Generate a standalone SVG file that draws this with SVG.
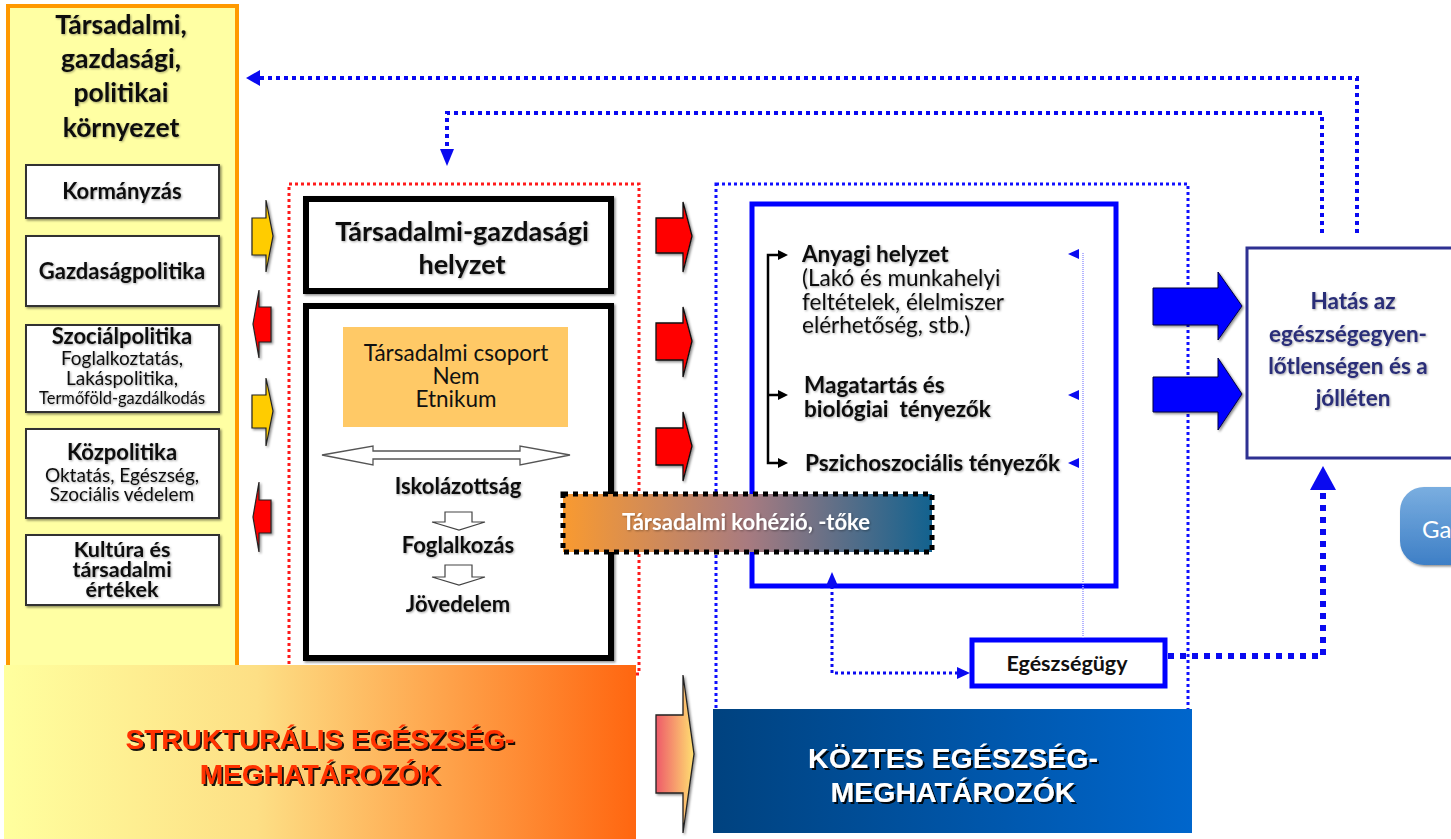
<svg xmlns="http://www.w3.org/2000/svg" width="1451" height="839" viewBox="0 0 1451 839">
  <defs>
    <filter id="shadow" x="-10%" y="-10%" width="130%" height="130%">
      <feDropShadow dx="1.5" dy="1.5" stdDeviation="1.2" flood-color="#000" flood-opacity="0.45"/>
    </filter>
    <filter id="tshadow" x="-5%" y="-20%" width="110%" height="150%">
      <feDropShadow dx="1" dy="1" stdDeviation="0.8" flood-color="#000" flood-opacity="0.35"/>
    </filter>
    <filter id="hshadow" x="-5%" y="-20%" width="110%" height="150%">
      <feDropShadow dx="2" dy="2" stdDeviation="0.6" flood-color="#000" flood-opacity="0.9"/>
    </filter>
    <linearGradient id="gStruct" x1="0" y1="0" x2="1" y2="0">
      <stop offset="0" stop-color="#FFFF9E"/>
      <stop offset="0.4" stop-color="#FDDF85"/>
      <stop offset="1" stop-color="#FF6610"/>
    </linearGradient>
    <linearGradient id="gKoztes" x1="0" y1="0" x2="1" y2="0">
      <stop offset="0" stop-color="#00427F"/>
      <stop offset="1" stop-color="#0066CC"/>
    </linearGradient>
    <linearGradient id="gKohezio" x1="0" y1="0" x2="1" y2="0">
      <stop offset="0" stop-color="#F99A30"/>
      <stop offset="0.5" stop-color="#A87B80"/>
      <stop offset="1" stop-color="#12628F"/>
    </linearGradient>
    <linearGradient id="gMid" x1="0" y1="0" x2="1" y2="0">
      <stop offset="0" stop-color="#EE5A6A"/>
      <stop offset="1" stop-color="#FFE070"/>
    </linearGradient>
    <linearGradient id="gBtn" x1="0" y1="0" x2="0" y2="1">
      <stop offset="0" stop-color="#7AAEE0"/>
      <stop offset="1" stop-color="#3E7FC6"/>
    </linearGradient>
    <style>
      .t { font-family: Lato, "Liberation Sans", sans-serif; fill: #111; }
      .b { font-weight: bold; }
      .panelBox { fill: #fff; stroke: #333; stroke-width: 2; }
      .reddot { fill: none; stroke: #FF1A1A; stroke-width: 3; stroke-dasharray: 3 3; }
      .bluedot { fill: none; stroke: #1010FF; stroke-width: 3; stroke-dasharray: 3 3; }
      .fb { fill: none; stroke: #0A0AF0; stroke-width: 4; stroke-dasharray: 4 4; }
      .thickdot { fill: none; stroke: #0A0AF0; stroke-width: 6; stroke-dasharray: 6 6; }
      .thin { fill: none; stroke: #0A0AF0; stroke-width: 3; stroke-dasharray: 3 3; }
      .bhead { fill: #0A0AF0; }
      .banner { font-family: "Liberation Sans", Arial, sans-serif; font-weight: bold; font-size: 28px; }
    </style>
  </defs>

  <rect width="1451" height="839" fill="#fff"/>

  <!-- left column: social, economic, political context -->
  <g id="context">
    <rect x="8" y="6" width="229" height="680" fill="#FFFFA3" stroke="#FF9900" stroke-width="4"/>
    <g class="t b" font-size="26.5" text-anchor="middle" filter="url(#tshadow)">
      <text x="121" y="34">Társadalmi,</text>
      <text x="121" y="68">gazdasági,</text>
      <text x="121" y="102">politikai</text>
      <text x="121" y="137">környezet</text>
    </g>
  </g>
  <g id="kormanyzas">
    <rect class="panelBox" x="26" y="165" width="193" height="53" filter="url(#shadow)"/>
    <text class="t b" x="122" y="199" font-size="22" text-anchor="middle" filter="url(#tshadow)">Kormányzás</text>
  </g>
  <g id="gazdasagpolitika">
    <rect class="panelBox" x="26" y="236" width="193" height="70" filter="url(#shadow)"/>
    <text class="t b" x="122" y="279" font-size="22" text-anchor="middle" filter="url(#tshadow)">Gazdaságpolitika</text>
  </g>
  <g id="szocialpolitika">
    <rect class="panelBox" x="26" y="325" width="193" height="87" filter="url(#shadow)"/>
    <g class="t" text-anchor="middle" filter="url(#tshadow)">
      <text class="b" x="122" y="344" font-size="22">Szociálpolitika</text>
      <text x="122" y="365" font-size="19">Foglalkoztatás,</text>
      <text x="122" y="385" font-size="19">Lakáspolitika,</text>
      <text x="122" y="404" font-size="18" textLength="166" lengthAdjust="spacingAndGlyphs">Termőföld-gazdálkodás</text>
    </g>
  </g>
  <g id="kozpolitika">
    <rect class="panelBox" x="26" y="429" width="193" height="89" filter="url(#shadow)"/>
    <g class="t" text-anchor="middle" filter="url(#tshadow)">
      <text class="b" x="122" y="460" font-size="22">Közpolitika</text>
      <text x="122" y="482" font-size="19">Oktatás, Egészség,</text>
      <text x="122" y="501" font-size="19">Szociális védelem</text>
    </g>
  </g>
  <g id="kultura">
    <rect class="panelBox" x="26" y="535" width="193" height="70" filter="url(#shadow)"/>
    <g class="t b" font-size="21.5" text-anchor="middle" filter="url(#tshadow)">
      <text x="122" y="557">Kultúra és</text>
      <text x="122" y="577">társadalmi</text>
      <text x="122" y="597">értékek</text>
    </g>
  </g>

  <!-- small arrows between context column and structural box -->
  <g id="context-arrows" stroke="#222" stroke-width="1.2" filter="url(#shadow)">
    <path d="M252,218 H266 V200 L273,236 L266,272 V255 H252 Z" fill="#FFCC00"/>
    <path d="M271,307 H259 V290 L253,324 L259,358 V342 H271 Z" fill="#FF0000"/>
    <path d="M252,395 H266 V378 L273,411 L266,446 V428 H252 Z" fill="#FFCC00"/>
    <path d="M271,500 H259 V482 L253,517 L259,552 V533 H271 Z" fill="#FF0000"/>
  </g>

  <!-- structural determinants area -->
  <rect class="reddot" x="289" y="184" width="350" height="490"/>

  <g id="tarsadalmi-gazdasagi-helyzet">
    <rect x="306" y="199" width="305" height="92" fill="#fff" stroke="#000" stroke-width="6" filter="url(#shadow)"/>
    <g class="t b" font-size="27" text-anchor="middle" filter="url(#tshadow)">
      <text x="462" y="241">Társadalmi-gazdasági</text>
      <text x="462" y="274">helyzet</text>
    </g>
  </g>

  <g id="tarsadalmi-helyzet">
    <rect x="306" y="306" width="305" height="352" fill="#fff" stroke="#000" stroke-width="6" filter="url(#shadow)"/>
    <rect x="343" y="327" width="225" height="100" fill="#FFC966"/>
    <g class="t" font-size="22.5" text-anchor="middle">
      <text x="456" y="361">Társadalmi csoport</text>
      <text x="456" y="384">Nem</text>
      <text x="456" y="407">Etnikum</text>
    </g>
    <path d="M322,455 L373,446 V451 H520 V446 L570,455 L520,465 V459 H373 V465 Z" fill="#fff" stroke="#555" stroke-width="1.3"/>
    <g class="t b" font-size="22" text-anchor="middle" filter="url(#tshadow)">
      <text x="458" y="494">Iskolázottság</text>
      <text x="458" y="553">Foglalkozás</text>
      <text x="458" y="612">Jövedelem</text>
    </g>
    <path d="M445,512 H472 V522 H485 L459,530 L432,522 H445 Z" fill="#fff" stroke="#444" stroke-width="1.2"/>
    <path d="M445,565 H472 V577 H485 L459,585 L432,577 H445 Z" fill="#fff" stroke="#444" stroke-width="1.2"/>
  </g>

  <!-- red arrows into intermediary determinants -->
  <g id="red-arrows" fill="#FF0000" stroke="#111" stroke-width="1.3" filter="url(#shadow)">
    <path d="M656,218 H683 V202 L692,236 L683,272 V253 H656 Z"/>
    <path d="M656,323 H683 V307 L692,341 L683,377 V360 H656 Z"/>
    <path d="M656,428 H683 V412 L692,446 L683,481 V465 H656 Z"/>
  </g>

  <!-- intermediary determinants area -->
  <rect class="bluedot" x="716" y="184" width="472" height="540"/>

  <g id="koztes-tenyezok">
    <rect x="752" y="204" width="364" height="382" fill="#fff" stroke="#0000FF" stroke-width="5"/>
    <g class="t" font-size="22.5" filter="url(#tshadow)">
      <text class="b" x="802" y="262">Anyagi helyzet</text>
      <text x="802" y="286">(Lakó és munkahelyi</text>
      <text x="802" y="310">feltételek, élelmiszer</text>
      <text x="802" y="333">elérhetőség, stb.)</text>
      <text class="b" x="804" y="393">Magatartás és</text>
      <text class="b" x="804" y="417" xml:space="preserve">biológiai  tényezők</text>
      <text class="b" x="805" y="471">Pszichoszociális tényezők</text>
    </g>
  </g>

  <g id="kohezio">
    <rect x="563" y="494" width="369" height="58" fill="url(#gKohezio)" stroke="#000" stroke-width="5" stroke-dasharray="5 5"/>
    <text class="t b" x="746" y="530" font-size="22" text-anchor="middle" style="fill:#fff" filter="url(#tshadow)">Társadalmi kohézió, -tőke</text>
  </g>

  <g id="egeszsegugy">
    <rect x="972" y="640" width="193" height="46" fill="#fff" stroke="#0000FF" stroke-width="5"/>
    <text class="t b" x="1067" y="671" font-size="21.5" text-anchor="middle">Egészségügy</text>
  </g>

  <g id="hatas">
    <rect x="1247" y="248" width="230" height="210" fill="#fff" stroke="#2E3192" stroke-width="3"/>
    <g class="t b" font-size="22.5" text-anchor="middle" style="fill:#2B2F78" filter="url(#tshadow)">
      <text x="1353" y="309">Hatás az</text>
      <text x="1348" y="342">egészségegyen-</text>
      <text x="1348" y="374">lőtlenségen és a</text>
      <text x="1353" y="406">jólléten</text>
    </g>
  </g>

  <g id="gomb">
    <rect x="1400" y="487" width="90" height="78" rx="24" fill="url(#gBtn)" filter="url(#shadow)"/>
    <text class="t" x="1422" y="538" font-size="24" style="fill:#fff">Ga</text>
  </g>

  <!-- blue arrows to impact box -->
  <g id="blue-arrows" fill="#0000FF" stroke="#000040" stroke-width="1" filter="url(#shadow)">
    <path d="M1153,288 H1218 V272 L1242,306 L1218,340 V325 H1153 Z"/>
    <path d="M1153,377 H1218 V358 L1242,394 L1218,430 V412 H1153 Z"/>
  </g>

  <!-- connectors -->
  <g id="connectors">
    <!-- feedback loops from the impact box -->
    <path class="fb" d="M1357,233 V78 H258"/>
    <polygon class="bhead" points="246,78 260,70 260,86"/>
    <path class="fb" d="M1322,233 V113 H447 V150"/>
    <polygon class="bhead" points="447,166 440,149 454,149"/>

    <!-- health system to impact -->
    <path class="thickdot" d="M1168,656 H1323 V490"/>
    <polygon class="bhead" points="1323,466 1310,490 1336,490"/>

    <!-- cohesion <-> health system -->
    <path class="thin" d="M832,586 V673 H958"/>
    <polygon class="bhead" points="832,572 826,586 838,586"/>
    <polygon class="bhead" points="970,673 957,667 957,679"/>

    <!-- health system back to intermediary factors -->
    <path d="M1083,253 V638" fill="none" stroke="#9C9CFF" stroke-width="1.5" stroke-dasharray="1 1"/>
    <polygon class="bhead" points="1068,254 1079,249 1079,259"/>
    <polygon class="bhead" points="1068,395 1079,390 1079,400"/>
    <polygon class="bhead" points="1068,463 1079,458 1079,468"/>

    <!-- bracket linking intermediary factors -->
    <path d="M780,255 H768 V463 H780 M768,395 H780" fill="none" stroke="#000" stroke-width="2.5"/>
    <polygon points="788,255 778,250 778,260" fill="#000"/>
    <polygon points="788,395 778,390 778,400" fill="#000"/>
    <polygon points="788,463 778,458 778,468" fill="#000"/>
  </g>

  <!-- bottom banners -->
  <g id="strukturalis">
    <rect x="4" y="665" width="632" height="174" fill="url(#gStruct)"/>
    <g class="banner" text-anchor="middle" fill="#FF3300" filter="url(#hshadow)">
      <text x="320" y="749">STRUKTURÁLIS EGÉSZSÉG-</text>
      <text x="320" y="784">MEGHATÁROZÓK</text>
    </g>
  </g>

  <g id="kozbulso-nyil">
    <path d="M656,715 H683 V675 L694,754 L683,833 V793 H656 Z" fill="url(#gMid)" stroke="#222" stroke-width="1.3" filter="url(#shadow)"/>
  </g>

  <g id="koztes">
    <rect x="713" y="709" width="479" height="124" fill="url(#gKoztes)"/>
    <g class="banner" text-anchor="middle" fill="#fff" filter="url(#hshadow)">
      <text x="953" y="768" font-size="28.5">KÖZTES EGÉSZSÉG-</text>
      <text x="953" y="802" font-size="28.5">MEGHATÁROZÓK</text>
    </g>
  </g>
</svg>
